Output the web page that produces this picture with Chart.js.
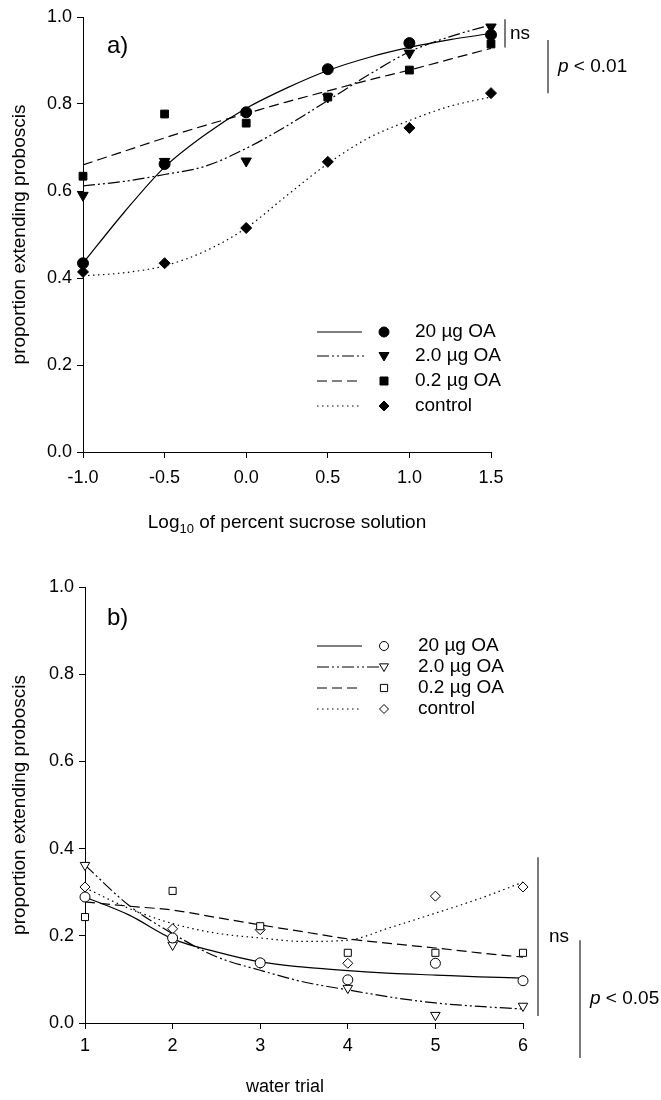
<!DOCTYPE html>
<html>
<head>
<meta charset="utf-8">
<script src="https://cdn.jsdelivr.net/npm/chart.js@4.4.0/dist/chart.umd.min.js"></script>
<style>
  body { margin: 0; background: #fff; }
  #wrap { position: relative; width: 661px; height: 1100px; }
  canvas { position: absolute; left: 0; }
  #chartA { top: 0; }
  #chartB { top: 545px; }
</style>
</head>
<body>
<div id="wrap">
  <canvas id="chartA" width="661" height="545"></canvas>
  <canvas id="chartB" width="661" height="555"></canvas>
</div>
<script>
const LABELS = ['20 µg OA', '2.0 µg OA', '0.2 µg OA', 'control'];

// a) response to sucrose
const logSucrose = [-1.0, -0.5, 0.0, 0.5, 1.0, 1.5];
const sucrose20 = [0.434, 0.662, 0.781, 0.880, 0.940, 0.959];
const sucrose2 = [0.590, 0.668, 0.669, 0.816, 0.917, 0.977];
const sucrose02 = [0.634, 0.777, 0.756, 0.816, 0.878, 0.938];
const sucroseCtl = [0.414, 0.434, 0.515, 0.667, 0.745, 0.825];

// fitted curves of a) at quarter steps
const fitX = [-1.0, -0.75, -0.5, -0.25, 0.0, 0.25, 0.5, 0.75, 1.0, 1.25, 1.5];
const fit20 = [0.434, 0.550, 0.655, 0.730, 0.790, 0.837, 0.877, 0.907, 0.930, 0.948, 0.962];
const fit2 = [0.612, 0.622, 0.638, 0.657, 0.698, 0.750, 0.808, 0.867, 0.920, 0.955, 0.982];
const fit02 = [0.660, 0.691, 0.722, 0.751, 0.778, 0.805, 0.830, 0.855, 0.878, 0.903, 0.928];
const fitCtl = [0.405, 0.412, 0.428, 0.462, 0.515, 0.590, 0.663, 0.722, 0.762, 0.795, 0.816];

// b) response to water
const waterTrial = [1, 2, 3, 4, 5, 6];
const water20 = [0.289, 0.195, 0.138, 0.099, 0.137, 0.097];
const water2 = [0.362, 0.179, 0.138, 0.080, 0.018, 0.039];
const water02 = [0.243, 0.303, 0.222, 0.161, 0.161, 0.161];
const waterCtl = [0.312, 0.216, 0.214, 0.137, 0.291, 0.312];

// fitted curves of b)
const fitT = [1, 1.5, 2, 2.5, 3, 3.5, 4, 4.5, 5, 5.5, 6];
const fitW20 = [0.289, 0.248, 0.193, 0.163, 0.140, 0.128, 0.120, 0.114, 0.110, 0.106, 0.103];
const fitW2 = [0.362, 0.270, 0.205, 0.152, 0.121, 0.094, 0.076, 0.059, 0.046, 0.038, 0.032];
const fitW02 = [0.278, 0.268, 0.259, 0.242, 0.225, 0.209, 0.193, 0.182, 0.172, 0.161, 0.151];
const fitWCtl = [0.310, 0.263, 0.228, 0.206, 0.195, 0.187, 0.190, 0.220, 0.252, 0.285, 0.323];

const FONT = 'Arial, "Liberation Sans", sans-serif';
const DASHES = [[], [12, 3, 2, 3, 2, 3], [10, 5], [1.5, 3.5]];
const MARKERS = [['circle', 0], ['triangle', 180], ['rect', 0], ['rectRot', 0]];

function toXY(xs, ys) {
  return xs.map((x, i) => ({ x: x, y: ys[i] }));
}

function fitSet(xs, ys, k) {
  return {
    type: 'line',
    data: toXY(xs, ys),
    borderColor: '#000',
    borderWidth: 1.2,
    borderDash: DASHES[k],
    pointRadius: 0,
    fill: false,
    showLine: true,
    clip: false,
    cubicInterpolationMode: 'monotone',
    order: 2
  };
}

function pointSet(xs, ys, k, filled) {
  let r = filled ? 5.5 : 5;
  if (k == 1) r += 0.5;
  return {
    data: toXY(xs, ys),
    showLine: false,
    clip: false,
    pointStyle: MARKERS[k][0],
    rotation: MARKERS[k][1],
    pointRadius: r,
    pointHoverRadius: r,
    backgroundColor: filled ? '#000' : '#fff',
    borderColor: '#000',
    borderWidth: 1,
    order: 1
  };
}

// hand drawn marker for the legend rows
function drawMarker(ctx, style, x, y, r, filled) {
  ctx.beginPath();
  if (style == 'circle') {
    ctx.arc(x, y, r, 0, Math.PI * 2);
  } else if (style == 'triangle') {
    ctx.moveTo(x - r, y - r * 0.7);
    ctx.lineTo(x + r, y - r * 0.7);
    ctx.lineTo(x, y + r);
    ctx.closePath();
  } else if (style == 'rect') {
    ctx.rect(x - r * 0.8, y - r * 0.8, r * 1.6, r * 1.6);
  } else {
    ctx.moveTo(x, y - r);
    ctx.lineTo(x + r, y);
    ctx.lineTo(x, y + r);
    ctx.lineTo(x - r, y);
    ctx.closePath();
  }
  ctx.fillStyle = filled ? '#000' : '#fff';
  ctx.fill();
  ctx.strokeStyle = '#000';
  ctx.lineWidth = 1;
  ctx.stroke();
}

function pText(ctx, x, y, rest) {
  ctx.font = 'italic 19px ' + FONT;
  ctx.fillText('p', x, y);
  let w = ctx.measureText('p').width;
  ctx.font = '19px ' + FONT;
  ctx.fillText(rest, x + w, y);
}

// legend, panel letter, significance bars and axis title
function notesPlugin(opt) {
  return {
    id: 'notes',
    afterDraw(chart) {
      const ctx = chart.ctx;
      const ys = chart.scales.y;
      ctx.save();
      ctx.fillStyle = '#000';
      ctx.textBaseline = 'middle';

      ctx.font = '24px ' + FONT;
      ctx.fillText(opt.letter, 107, opt.letterY);

      // legend rows
      opt.legendY.forEach((ly, k) => {
        ctx.save();
        ctx.strokeStyle = '#000';
        ctx.lineWidth = 1.2;
        ctx.setLineDash(DASHES[k]);
        ctx.beginPath();
        ctx.moveTo(317, ly);
        ctx.lineTo(opt.lineEnd[k], ly);
        ctx.stroke();
        ctx.restore();
        drawMarker(ctx, MARKERS[k][0], opt.markX, ly, opt.filled ? 5 : 4.5, opt.filled);
        ctx.fillStyle = '#000';
        ctx.font = '19px ' + FONT;
        ctx.fillText(LABELS[k], opt.textX, ly);
      });

      // significance bars
      ctx.strokeStyle = '#333';
      ctx.lineWidth = 1.3;
      opt.bars.forEach(b => {
        const y0 = ys.getPixelForValue(b.from);
        const y1 = ys.getPixelForValue(b.to);
        ctx.beginPath();
        ctx.moveTo(b.x, y0);
        ctx.lineTo(b.x, y1);
        ctx.stroke();
        ctx.fillStyle = '#000';
        if (b.p) {
          pText(ctx, b.x + 10, (y0 + y1) / 2, b.text);
        } else {
          ctx.font = '19px ' + FONT;
          ctx.fillText(b.text, b.x + 5 + (b.gap || 0), (y0 + y1) / 2);
        }
      });

      // x axis title
      ctx.textBaseline = 'alphabetic';
      const xs = chart.scales.x;
      if (opt.sub) {
        ctx.font = '19px ' + FONT;
        const a = 'Log', c = ' of percent sucrose solution';
        const wa = ctx.measureText(a).width, wc = ctx.measureText(c).width;
        ctx.font = '13px ' + FONT;
        const wb = ctx.measureText('10').width;
        let x = (xs.left + xs.right) / 2 - (wa + wb + wc) / 2;
        ctx.font = '19px ' + FONT;
        ctx.fillText(a, x, opt.titleY);
        ctx.font = '13px ' + FONT;
        ctx.fillText('10', x + wa, opt.titleY + 5);
        ctx.font = '19px ' + FONT;
        ctx.fillText(c, x + wa + wb, opt.titleY);
      } else {
        ctx.font = '18px ' + FONT;
        ctx.textAlign = 'center';
        ctx.fillText(opt.title, opt.titleX, opt.titleY);
      }
      ctx.restore();
    }
  };
}

function axes(xMin, xMax, xStep, xDigits, yWidth, xHeight, xPad) {
  return {
    x: {
      type: 'linear',
      min: xMin,
      max: xMax,
      border: { color: '#000', width: 1 },
      grid: { drawOnChartArea: false, drawTicks: true, tickLength: 6, color: '#000' },
      ticks: {
        stepSize: xStep,
        color: '#000',
        padding: xPad,
        maxRotation: 0,
        font: { family: FONT, size: 18 },
        callback: v => v.toFixed(xDigits)
      },
      afterFit: s => { s.height = xHeight; }
    },
    y: {
      min: 0,
      max: 1,
      border: { color: '#000', width: 1 },
      grid: { drawOnChartArea: false, drawTicks: true, tickLength: 6, color: '#000' },
      ticks: {
        stepSize: 0.2,
        color: '#000',
        padding: 5,
        font: { family: FONT, size: 18 },
        callback: v => v.toFixed(1)
      },
      title: {
        display: true,
        text: 'proportion extending proboscis',
        color: '#000',
        padding: { top: 8, bottom: 0 },
        font: { family: FONT, size: 19 }
      },
      afterFit: s => { s.width = yWidth; }
    }
  };
}

const baseOpts = {
  responsive: false,
  animation: false,
  events: [],
  plugins: { legend: { display: false }, tooltip: { enabled: false } }
};

new Chart(document.getElementById('chartA'), {
  type: 'scatter',
  data: {
    datasets: [
      pointSet(logSucrose, sucrose20, 0, true),
      pointSet(logSucrose, sucrose2, 1, true),
      pointSet(logSucrose, sucrose02, 2, true),
      pointSet(logSucrose, sucroseCtl, 3, true),
      fitSet(fitX, fit20, 0),
      fitSet(fitX, fit2, 1),
      fitSet(fitX, fit02, 2),
      fitSet(fitX, fitCtl, 3)
    ]
  },
  options: Object.assign({}, baseOpts, {
    layout: { padding: { top: 17, right: 170, left: 0, bottom: 0 } },
    scales: axes(-1, 1.5, 0.5, 1, 83, 93, 9)
  }),
  plugins: [notesPlugin({
    letter: 'a)', letterY: 46, filled: true,
    legendY: [332, 356, 381, 406], lineEnd: [362, 364, 362, 362], markX: 384, textX: 415,
    bars: [
      { x: 505, from: 0.995, to: 0.93, text: 'ns' },
      { x: 548, from: 0.947, to: 0.825, text: ' < 0.01', p: true }
    ],
    sub: true, titleY: 528
  })]
});

new Chart(document.getElementById('chartB'), {
  type: 'scatter',
  data: {
    datasets: [
      pointSet(waterTrial, water20, 0, false),
      pointSet(waterTrial, water2, 1, false),
      pointSet(waterTrial, water02, 2, false),
      pointSet(waterTrial, waterCtl, 3, false),
      fitSet(fitT, fitW20, 0),
      fitSet(fitT, fitW2, 1),
      fitSet(fitT, fitW02, 2),
      fitSet(fitT, fitWCtl, 3)
    ]
  },
  options: Object.assign({}, baseOpts, {
    layout: { padding: { top: 42, right: 138, left: 0, bottom: 0 } },
    scales: axes(1, 6, 1, 0, 85, 77, 6)
  }),
  plugins: [notesPlugin({
    letter: 'b)', letterY: 73, filled: false,
    legendY: [101, 122, 143, 164], lineEnd: [362, 380, 362, 362], markX: 384, textX: 418,
    bars: [
      { x: 538, from: 0.38, to: 0.016, text: 'ns', gap: 6 },
      { x: 580, from: 0.19, to: -0.08, text: ' < 0.05', p: true }
    ],
    sub: false, title: 'water trial', titleX: 285, titleY: 547
  })]
});
</script>
</body>
</html>
